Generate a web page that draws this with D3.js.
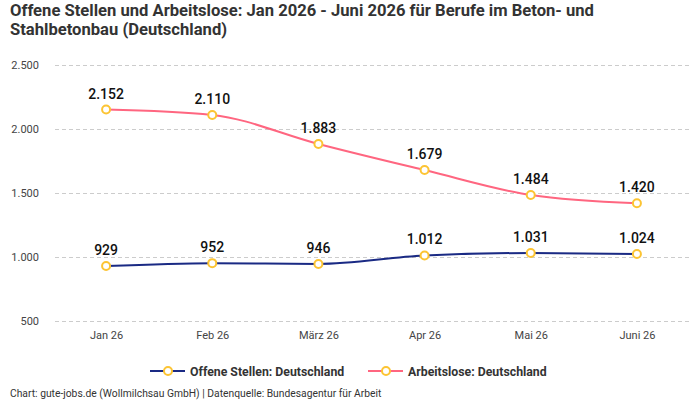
<!DOCTYPE html>
<html><head><meta charset="utf-8">
<script src="https://cdn.jsdelivr.net/npm/d3@7"></script>
<style>body{margin:0;background:#fff;} svg{display:block;font-family:Roboto, "Noto Sans", sans-serif;}</style>
</head><body>
<svg id="c" width="700" height="400"></svg>
<script>
const categories = ["Jan 26","Feb 26","März 26","Apr 26","Mai 26","Juni 26"];
const offeneStellen = [929, 952, 946, 1012, 1031, 1024];
const arbeitslose = [2152, 2110, 1883, 1679, 1484, 1420];
const yTicks = [500, 1000, 1500, 2000, 2500];
const seriesNames = ["Offene Stellen: Deutschland", "Arbeitslose: Deutschland"];

const svg = d3.select("#c");
const x = d3.scalePoint().domain(categories).range([53, 690]).padding(0.5);
const y = d3.scaleLinear().domain([500, 2500]).range([321, 65]);
const fmt = v => d3.format(",")(v).replace(/,/g, ".");

svg.append("text").attr("x", 10).attr("y", 16).attr("font-size", 16.6).attr("font-weight", 700).attr("fill", "#333")
  .text("Offene Stellen und Arbeitslose: Jan 2026 - Juni 2026 für Berufe im Beton- und");
svg.append("text").attr("x", 10).attr("y", 35).attr("font-size", 16.6).attr("font-weight", 700).attr("fill", "#333")
  .text("Stahlbetonbau (Deutschland)");

const yAxis = d3.axisLeft(y).tickValues(yTicks).tickFormat(fmt).tickSize(-(690 - 55)).tickPadding(16);
const gy = svg.append("g").attr("transform", "translate(55,0)").call(yAxis);
gy.select(".domain").remove();
gy.selectAll(".tick line").attr("stroke", "#ccc").attr("stroke-dasharray", "4,3");
gy.selectAll(".tick text").attr("font-size", 11).attr("fill", "#444").attr("font-family", "Roboto, sans-serif");

const xAxis = d3.axisBottom(x).tickSize(0).tickPadding(0);
const gx = svg.append("g").attr("transform", "translate(0,331)").call(xAxis);
gx.select(".domain").remove();
gx.selectAll(".tick text").attr("font-size", 11).attr("fill", "#444").attr("font-family", "Roboto, sans-serif");

const colors = ["#1a2a84", "#ff6680"];
const series = [offeneStellen, arbeitslose];
const line = d3.line().x((d, i) => x(categories[i])).y(d => y(d)).curve(d3.curveMonotoneX);

series.forEach((s, k) => {
  svg.append("path").datum(s).attr("d", line).attr("fill", "none").attr("stroke", colors[k]).attr("stroke-width", 2);
});
series.forEach((s, k) => {
  svg.selectAll(null).data(s).enter().append("circle")
    .attr("cx", (d, i) => x(categories[i])).attr("cy", d => y(d)).attr("r", 4)
    .attr("fill", "#fff").attr("stroke", "#fcc433").attr("stroke-width", 2);
  svg.selectAll(null).data(s).enter().append("text")
    .attr("x", (d, i) => x(categories[i])).attr("y", d => y(d) - 11)
    .attr("text-anchor", "middle").attr("font-size", 14).attr("font-weight", 500).attr("fill", "#111")
    .text(fmt);
});

const legendItems = [{x: 150, c: colors[0], t: seriesNames[0]}, {x: 368, c: colors[1], t: seriesNames[1]}];
legendItems.forEach(it => {
  const g = svg.append("g").attr("transform", `translate(${it.x},371)`);
  g.append("line").attr("x1", 0).attr("x2", 35).attr("y1", 0).attr("y2", 0).attr("stroke", it.c).attr("stroke-width", 2);
  g.append("circle").attr("cx", 18).attr("cy", 0).attr("r", 4).attr("fill", "#fff").attr("stroke", "#fcc433").attr("stroke-width", 2);
  g.append("text").attr("x", 40).attr("y", 5).attr("font-size", 12.3).attr("font-weight", 700).attr("fill", "#333").text(it.t);
});

svg.append("text").attr("x", 10).attr("y", 397).attr("font-size", 10.3).attr("fill", "#333")
  .text("Chart: gute-jobs.de (Wollmilchsau GmbH) | Datenquelle: Bundesagentur für Arbeit");
</script>
</body></html>
